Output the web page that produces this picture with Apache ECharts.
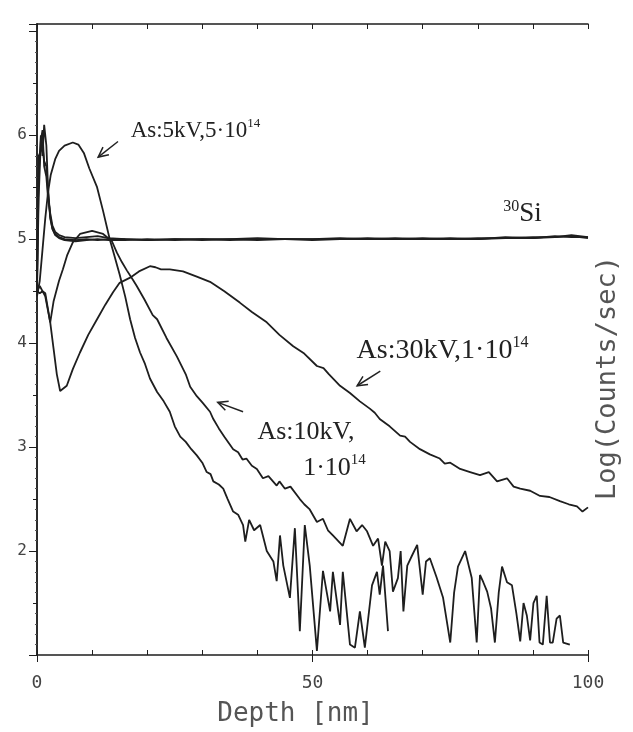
<!DOCTYPE html>
<html>
<head>
<meta charset="utf-8">
<script src="https://cdn.jsdelivr.net/npm/echarts@6/dist/echarts.min.js"></script>
<style>
html,body{margin:0;padding:0;background:#fff}
#main{width:633px;height:732px}
</style>
</head>
<body>
<div id="main"></div>
<script>
// depth [nm] and log(counts/sec)

// As 5kV, 5e14
var depth5 = [0,0.5,1,1.5,2,2.5,3.3,4,5,6.5,7.5,8.5,9.5,10.9,12,13.2,14,15,16,16.9,17.8,18.7,19.6,20.5,21.8,23,24.1,25,26,27,28,29,30,30.8,31.5,32,33,33.8,34.6,35.6,36.5,37.4,37.8,38.5,39.4,40.5,41.7,42.9,43.5,44.1,44.7,45.9,46.8,47.7,48.6,49.5,50.8,51.9,53.2,53.7,55,55.5,56.8,57.7,58.6,59.5,60.8,61.7,62.2,62.8,63.7];
var as5 = [4.45,4.6,4.9,5.2,5.45,5.62,5.77,5.85,5.9,5.93,5.91,5.83,5.68,5.5,5.27,5.0,4.85,4.66,4.45,4.23,4.05,3.91,3.8,3.66,3.53,3.44,3.34,3.2,3.1,3.05,2.98,2.92,2.85,2.76,2.74,2.67,2.64,2.6,2.5,2.38,2.35,2.25,2.09,2.3,2.2,2.25,2.0,1.9,1.71,2.15,1.86,1.55,2.22,1.23,2.25,1.86,1.04,1.81,1.42,1.8,1.29,1.8,1.1,1.07,1.42,1.07,1.67,1.8,1.58,1.86,1.23];

// As 10kV, 1e14
var depth10 = [0,0.5,1,1.5,2.4,3,4,4.7,5.5,6.5,7.8,10,12,13.6,14.5,15.4,16.3,17.4,18.1,19.5,21,21.8,23.5,25.4,27,27.8,29,30,31.4,32,33,34,35.6,36.5,37.3,38,39,39.9,41,42,43.5,44,45,46,47.7,48.5,49.5,50.8,51.9,52.8,53.7,54.6,55.5,56.8,58,59,59.9,61,61.9,62.6,63.2,64,64.6,65.5,66,66.5,67.2,68,69,70,70.6,71.3,72.5,73.7,75,75.7,76.4,77.7,78.9,79.8,80.4,81,81.7,82.4,83.1,83.8,84.4,85.3,86.2,87,87.7,88.3,88.9,89.5,90.1,90.7,91.2,91.8,92.5,93.1,93.6,94.3,94.9,95.5,96.7];
var as10 = [4.5,4.48,4.5,4.45,4.2,4.4,4.6,4.71,4.85,4.97,5.05,5.08,5.05,4.98,4.87,4.78,4.7,4.61,4.55,4.42,4.27,4.23,4.05,3.87,3.7,3.58,3.49,3.43,3.34,3.27,3.18,3.1,2.98,2.95,2.88,2.89,2.82,2.79,2.7,2.72,2.63,2.67,2.6,2.62,2.5,2.45,2.4,2.28,2.31,2.2,2.15,2.1,2.05,2.31,2.19,2.25,2.19,2.05,2.12,1.86,2.09,2.0,1.61,1.74,2.0,1.42,1.86,1.95,2.06,1.58,1.9,1.93,1.75,1.55,1.12,1.6,1.85,2.0,1.74,1.12,1.77,1.7,1.61,1.45,1.12,1.6,1.85,1.7,1.67,1.4,1.13,1.5,1.38,1.14,1.5,1.57,1.12,1.1,1.57,1.12,1.12,1.35,1.38,1.12,1.1];

// As 30kV, 1e14
var depth30 = [0,0.5,1,1.5,2.4,3,3.6,4.2,5.4,6.5,7.8,9.3,10.9,12.4,13.8,15,16.9,18.5,20.5,21.5,22.5,24.1,26.5,29,31.4,34,36.8,39,41.7,44,46.5,48.5,50.8,52,53,55,56.8,58.6,60.4,61.3,62.2,64,65.9,66.8,67.7,69.5,71.3,73.1,74,75,76.8,78.6,80.4,82,83.5,85.3,86.5,87.7,89.5,91.3,93,94.9,96.5,98,99,100];
var as30 = [4.5,4.55,4.5,4.48,4.2,3.95,3.7,3.54,3.59,3.75,3.91,4.08,4.23,4.37,4.49,4.58,4.63,4.69,4.74,4.73,4.71,4.71,4.69,4.64,4.59,4.5,4.39,4.3,4.2,4.08,3.97,3.9,3.78,3.76,3.7,3.59,3.52,3.44,3.37,3.33,3.27,3.2,3.11,3.1,3.05,2.98,2.93,2.89,2.84,2.85,2.79,2.76,2.73,2.76,2.67,2.7,2.62,2.6,2.58,2.53,2.52,2.48,2.45,2.43,2.38,2.42];

// 30Si signals of the three samples
var depthSi = [0,0.3,0.7,1,1.3,1.7,2,2.4,2.8,3.3,4,5,7,9,11,13,16,20,25,30,35,40,45,50,55,60,65,70,75,80,85,90,94,97,100];
var si1 = [4.55,5.6,6.0,5.8,6.1,5.9,5.5,5.2,5.1,5.05,5.02,5.0,4.99,5.0,4.99,5.0,5.0,4.99,5.0,5.0,4.99,5.0,5.0,5.0,5.01,5.0,5.0,5.01,5.0,5.01,5.01,5.02,5.02,5.04,5.02];
var si2 = [4.5,5.4,5.95,6.05,5.7,5.6,5.4,5.25,5.13,5.07,5.04,5.02,5.01,5.02,5.03,5.01,5.0,4.99,5.0,4.99,5.0,5.01,5.0,4.99,5.0,5.01,5.0,5.0,5.01,5.0,5.02,5.01,5.03,5.02,5.02];
var si3 = [4.6,5.8,5.85,5.9,5.75,5.7,5.45,5.22,5.1,5.04,5.01,4.99,4.98,4.99,5.0,4.99,4.99,5.0,4.99,5.0,5.0,4.99,5.0,5.0,5.0,5.0,5.01,5.0,5.0,5.0,5.01,5.01,5.02,5.03,5.01];

// tick labels shown
var yLabels = [2, 3, 4, 5, 6];
var xLabels = [0, 50, 100];

// annotations: anchor in data coords
var notes = [
  {text: '{n|As:5kV,5·10}{s|14}', at: [17.0, 6.05], size: 23},
  {text: '{s|30}{n|Si}', at: [84.6, 5.25], size: 27},
  {text: '{n|As:30kV,1·10}{s|14}', at: [58.0, 3.94], size: 28},
  {text: '{n|As:10kV,}', at: [40.0, 3.15], size: 26},
  {text: '{n|1·10}{s|14}', at: [48.3, 2.81], size: 26}
];
var arrows = [
  {from: [14.7, 5.94], to: [11.1, 5.79]},
  {from: [62.3, 3.73], to: [58.1, 3.59]},
  {from: [37.4, 3.34], to: [32.8, 3.43]}
];

function pts(xs, ys) {
  return xs.map(function(x, i) { return [x, ys[i]]; });
}

var ink = '#1e1e1e';
var mono = 'DejaVu Sans Mono';

function line(name, xs, ys) {
  return {
    name: name,
    type: 'line',
    xAxisIndex: 0,
    yAxisIndex: 0,
    symbol: 'none',
    animation: false,
    lineStyle: {color: ink, width: 1.8},
    data: pts(xs, ys)
  };
}

var chart = echarts.init(document.getElementById('main'));

var option = {
  backgroundColor: '#fff',
  animation: false,
  grid: {left: 37, right: 45, top: 24, bottom: 75},
  xAxis: [{
    type: 'value', min: 0, max: 100, interval: 10, position: 'bottom',
    axisLine: {lineStyle: {color: ink, width: 1.5}},
    axisTick: {inside: true, length: 5, lineStyle: {color: ink}},
    axisLabel: {show: false},
    splitLine: {show: false}
  }, {
    type: 'value', min: 0, max: 100, interval: 50, position: 'bottom',
    axisLine: {show: false},
    axisTick: {show: true, length: 7, lineStyle: {color: ink}},
    axisLabel: {
      fontFamily: mono, fontSize: 18, color: '#444', margin: 19,
      formatter: function(v) { return xLabels.indexOf(v) >= 0 ? String(v) : ''; }
    },
    splitLine: {show: false},
    name: 'Depth [nm]', nameLocation: 'middle', nameGap: 46,
    nameTextStyle: {fontFamily: mono, fontSize: 26, color: '#555', padding: [0, 34, 0, 0]}
  }, {
    type: 'value', min: 0, max: 100, interval: 10, position: 'top',
    axisLine: {lineStyle: {color: ink, width: 1.5}},
    axisTick: {inside: true, length: 5, lineStyle: {color: ink}},
    axisLabel: {show: false},
    splitLine: {show: false}
  }],
  yAxis: [{
    type: 'value', min: 1, max: 7.07, interval: 1, position: 'left',
    axisLine: {show: true, lineStyle: {color: ink, width: 1.5}},
    axisTick: {show: true, length: 6, lineStyle: {color: ink}},
    minorTick: {show: true, splitNumber: 10, length: 2, lineStyle: {color: '#555'}},
    axisLabel: {
      fontFamily: mono, fontSize: 16, color: '#444', margin: 10,
      formatter: function(v) { return yLabels.indexOf(v) >= 0 ? String(v) : ''; }
    },
    splitLine: {show: false}
  }, {
    type: 'value', min: 1, max: 7.07, interval: 1, position: 'right',
    axisLine: {show: true, lineStyle: {color: ink, width: 1.5}},
    axisTick: {show: true, inside: true, length: 8, lineStyle: {color: ink}},
    minorTick: {show: true, splitNumber: 2, length: 4, lineStyle: {color: ink}},
    axisLabel: {show: false},
    splitLine: {show: false}
  }],
  series: [
    line('Si a', depthSi, si1),
    line('Si b', depthSi, si2),
    line('Si c', depthSi, si3),
    line('As 5kV', depth5, as5),
    line('As 10kV', depth10, as10),
    line('As 30kV', depth30, as30)
  ]
};

chart.setOption(option);

// annotations placed through the chart's own coordinate conversion
function px(p) {
  return chart.convertToPixel({xAxisIndex: 0, yAxisIndex: 0}, p);
}

var graphics = [];
notes.forEach(function(nt) {
  var p = px(nt.at);
  var lh = nt.size + 2;
  graphics.push({
    type: 'text', x: p[0], y: p[1], silent: true,
    style: {
      text: nt.text, verticalAlign: 'middle', align: 'left',
      rich: {
        n: {fontFamily: 'Liberation Serif', fontSize: nt.size, lineHeight: lh, fill: '#222', verticalAlign: 'bottom'},
        s: {fontFamily: 'Liberation Serif', fontSize: Math.round(nt.size * 0.58), lineHeight: lh, fill: '#222', verticalAlign: 'top'}
      }
    }
  });
});
arrows.forEach(function(a) {
  var t = px(a.from), h = px(a.to);
  var ang = Math.atan2(t[1] - h[1], t[0] - h[0]);
  var len = 11, spread = 0.45;
  var w1 = [h[0] + len * Math.cos(ang + spread), h[1] + len * Math.sin(ang + spread)];
  var w2 = [h[0] + len * Math.cos(ang - spread), h[1] + len * Math.sin(ang - spread)];
  graphics.push({type: 'line', silent: true, shape: {x1: t[0], y1: t[1], x2: h[0], y2: h[1]}, style: {stroke: '#222', lineWidth: 1.5}});
  graphics.push({type: 'polyline', silent: true, shape: {points: [w1, h, w2]}, style: {stroke: '#222', lineWidth: 1.5, fill: null}});
});
graphics.push({
  type: 'text', x: 608, y: 378, rotation: Math.PI / 2, silent: true,
  style: {text: 'Log(Counts/sec)', fontFamily: mono, fontSize: 27, fill: '#555', align: 'center', verticalAlign: 'middle'}
});

chart.setOption({graphic: graphics});
</script>
</body>
</html>
